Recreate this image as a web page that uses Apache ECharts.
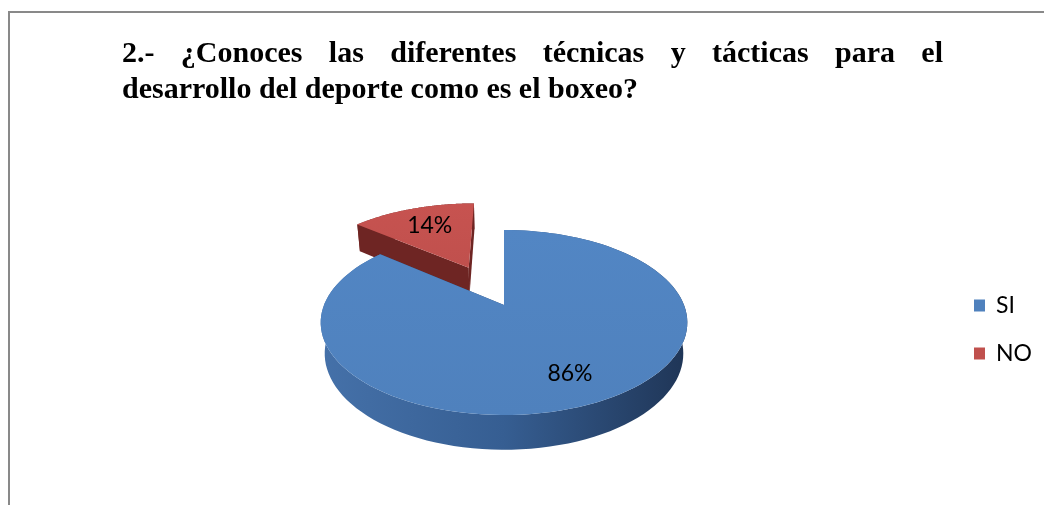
<!DOCTYPE html>
<html>
<head>
<meta charset="utf-8">
<script src="https://cdn.jsdelivr.net/npm/echarts@6/dist/echarts.min.js"></script>
<style>html,body{margin:0;padding:0;background:#fff;}#c{width:1044px;height:505px;}</style>
</head>
<body>
<div id="c"></div>
<script>
// ---- data ----
const categories = ['SI', 'NO'];
const values = [86, 14];
const titleLine1 = '2.- ¿Conoces las diferentes técnicas y tácticas para el';
const titleLine2 = 'desarrollo del deporte como es el boxeo?';

// ---- styling / 3D view settings ----
const topColors = ['#4F81BD', '#C0504D'];
const explode = [0, 0.5];
const VIEW = { cx: 504, cy: 305, S: 180, phi: 29.7 * Math.PI / 180, D: 4.58, t: 0.2 };

function proj(x, z, y) {
  const c = Math.cos(VIEW.phi), s = Math.sin(VIEW.phi);
  const Yc = y * c - z * s;
  const Zc = y * s + z * c;
  const k = VIEW.D / (VIEW.D - Zc);
  return [VIEW.cx + VIEW.S * x * k, VIEW.cy - VIEW.S * Yc * k];
}

const total = values.reduce((a, b) => a + b, 0);
const starts = [];
let acc = 0;
values.forEach(v => { starts.push(acc); acc += v; });

const wallGrad = [
  [{ offset: 0, color: '#4571A9' }, { offset: 0.5, color: '#365E92' }, { offset: 1, color: '#1F3556' }],
  [{ offset: 0, color: '#7E2C29' }, { offset: 1, color: '#6A2321' }]
];
const radialColor = ['#2B4A74', '#6E2523'];

function makeRender(i) {
  return function (params, api) {
    const v = api.value(0), st = api.value(1), tot = api.value(2);
    const a0 = st / tot * Math.PI * 2, a1 = (st + v) / tot * Math.PI * 2;
    const mid = (a0 + a1) / 2;
    const e = explode[i];
    const ox = e * Math.sin(mid), oz = -e * Math.cos(mid);
    const P = (r, a, y) => proj(ox + r * Math.sin(a), oz - r * Math.cos(a), y);
    const N = 120;
    const topArc = [], botArc = [];
    for (let k = 0; k <= N; k++) {
      const a = a0 + (a1 - a0) * k / N;
      topArc.push(P(1, a, 0));
      botArc.push(P(1, a, -VIEW.t));
    }
    const children = [];
    children.push({
      type: 'polygon',
      shape: { points: topArc.concat(botArc.slice().reverse()) },
      style: { fill: new echarts.graphic.LinearGradient(0, 0, 1, 0, wallGrad[i]) }
    });
    [a0, a1].forEach(a => {
      children.push({
        type: 'polygon',
        shape: { points: [P(0, a, 0), P(1, a, 0), P(1, a, -VIEW.t), P(0, a, -VIEW.t)] },
        style: { fill: radialColor[i] }
      });
    });
    children.push({
      type: 'polygon',
      shape: { points: [P(0, a0, 0)].concat(topArc) },
      style: { fill: new echarts.graphic.LinearGradient(0, 0, 0, 1, [
        { offset: 0, color: echarts.color.lift(topColors[i], -0.04) },
        { offset: 1, color: topColors[i] }]) }
    });
    const lp = P(0.72, mid, 0);
    children.push({
      type: 'text',
      style: {
        text: Math.round(v / tot * 100) + '%',
        x: lp[0] + 3, y: lp[1] + 2, align: 'center', verticalAlign: 'middle',
        fontSize: 23, fontFamily: 'Lato', fill: '#000'
      }
    });
    return { type: 'group', children: children };
  };
}

// ---- title words (justified first line) ----
const titleFont = 'bold 30px "Liberation Serif"';
const cv = document.createElement('canvas').getContext('2d');
cv.font = titleFont;
function wordsLine(text, y, justify, x0, x1) {
  const words = text.split(' ');
  const widths = words.map(w => cv.measureText(w).width);
  const sum = widths.reduce((a, b) => a + b, 0);
  const gap = justify ? (x1 - x0 - sum) / (words.length - 1) : cv.measureText(' ').width;
  let x = x0;
  return words.map((w, j) => {
    const el = {
      type: 'text', x: x, y: y,
      style: { text: w, font: titleFont, fill: '#000', align: 'left', verticalAlign: 'middle' }
    };
    x += widths[j] + gap;
    return el;
  });
}

const graphics = [
  { type: 'rect', shape: { x: 9, y: 12, width: 1200, height: 700 },
    style: { fill: 'none', stroke: '#898989', lineWidth: 2 }, silent: true }
].concat(wordsLine(titleLine1, 54, true, 122, 943))
 .concat(wordsLine(titleLine2, 90, false, 122, 943));

const series = categories.map((name, i) => ({
  type: 'custom',
  name: name,
  coordinateSystem: 'none',
  z: i === 0 ? 3 : 2,
  itemStyle: { color: topColors[i] },
  renderItem: makeRender(i),
  data: [[values[i], starts[i], total]],
  animation: false
}));

const chart = echarts.init(document.getElementById('c'));
chart.setOption({
  animation: false,
  backgroundColor: '#fff',
  graphic: graphics,
  legend: {
    data: categories,
    orient: 'vertical',
    left: 974,
    top: 294,
    padding: 0,
    itemWidth: 11,
    itemHeight: 12,
    itemGap: 25,
    icon: 'rect',
    textStyle: { fontSize: 23, fontFamily: 'Lato', color: '#000', padding: [0, 0, 0, 6], lineHeight: 23 }
  },
  series: series
});
</script>
</body>
</html>
